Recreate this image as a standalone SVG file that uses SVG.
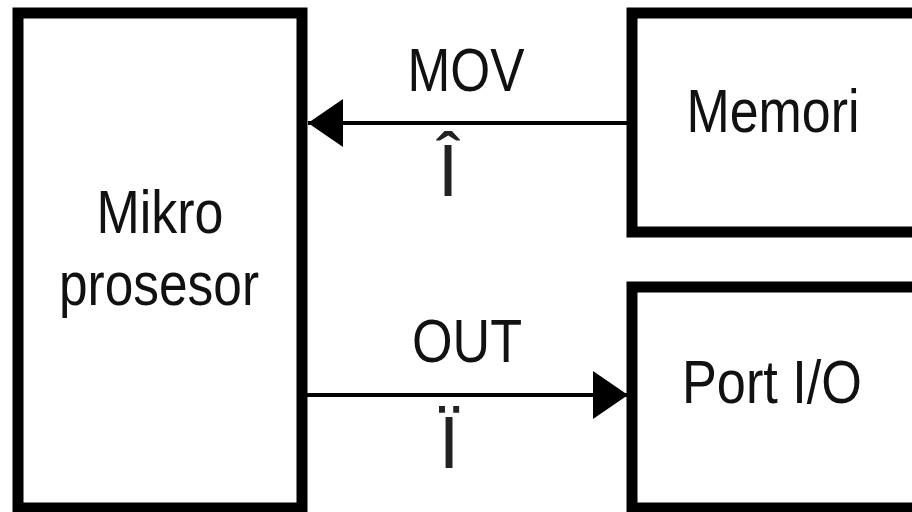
<svg xmlns="http://www.w3.org/2000/svg" width="912" height="512" viewBox="0 0 912 512">
<style>
.box{fill:#fff;stroke:#000;stroke-width:11}
.lbl{font-family:"Liberation Sans",Arial,sans-serif;font-size:62px;fill:#111;text-anchor:middle}
.sym{font-family:"Liberation Sans",Arial,sans-serif;font-size:74px;fill:#222;text-anchor:middle}
.con{stroke:#000;stroke-width:4;fill:none}
</style>
<defs>
<marker id="arr" markerUnits="userSpaceOnUse" markerWidth="36" markerHeight="50" refX="35" refY="24" orient="auto" viewBox="0 0 36 50">
<path d="M0,0 L35,24 L0,48 Z" fill="#000"/>
</marker>
</defs>
<rect width="912" height="512" fill="#fff"/>
<g id="mikroprosesor">
<rect class="box" x="18" y="13" width="284" height="495"/>
<text class="lbl" x="160" y="233" textLength="127" lengthAdjust="spacingAndGlyphs">Mikro</text>
<text class="lbl" x="159" y="305" textLength="200" lengthAdjust="spacingAndGlyphs">prosesor</text>
</g>
<g id="memori">
<rect class="box" x="632" y="13" width="300" height="219"/>
<text class="lbl" x="773" y="132" textLength="173" lengthAdjust="spacingAndGlyphs">Memori</text>
</g>
<g id="port">
<rect class="box" x="632" y="287" width="300" height="221"/>
<text class="lbl" x="772" y="403" textLength="180" lengthAdjust="spacingAndGlyphs">Port I/O</text>
</g>
<g id="connectors">
<line class="con" x1="627" y1="123" x2="308" y2="123" marker-end="url(#arr)"/>
<line class="con" x1="307" y1="395" x2="628" y2="395" marker-end="url(#arr)"/>
<text class="lbl" x="466" y="91" textLength="117" lengthAdjust="spacingAndGlyphs">MOV</text>
<text class="lbl" x="467" y="362" textLength="110" lengthAdjust="spacingAndGlyphs">OUT</text>
<text class="sym" x="448" y="196">Î</text>
<text class="sym" x="449" y="468">Ï</text>
</g>
</svg>
